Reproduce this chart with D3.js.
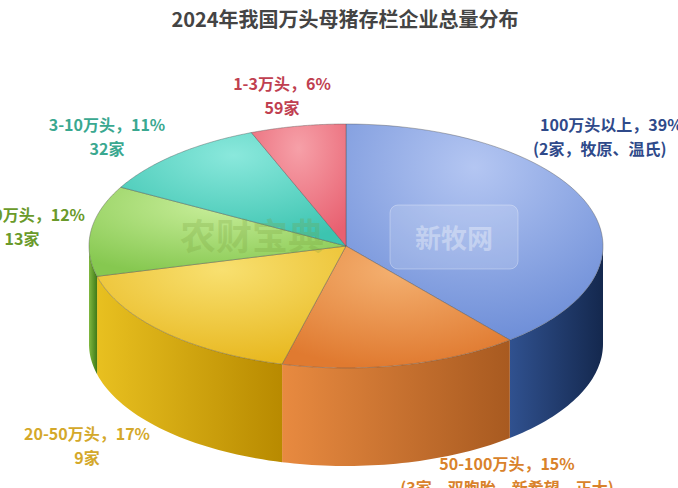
<!DOCTYPE html>
<html><head><meta charset="utf-8">
<script src="https://cdn.jsdelivr.net/npm/d3@7"></script>
<style>body{margin:0;background:#fff}text{font-family:"Noto Sans CJK SC",sans-serif}</style>
</head><body><div id="chart"></div>
<script>
const categories = ["100万头以上", "50-100万头", "20-50万头", "10-20万头", "3-10万头", "1-3万头"];
const shares = [39, 15, 17, 12, 11, 6];
const companies = ["(2家，牧原、温氏)", "(3家，双胞胎、新希望、正大)", "9家", "13家", "32家", "59家"];
const topColors = [["#b4c6f2", "#6f8fd8"], ["#f4b070", "#e07a30"], ["#f8e070", "#e8b820"], ["#c8ee9a", "#86c850"], ["#8ae8dc", "#3cc4b0"], ["#f6a0a8", "#e86070"]];
const sideColors = [["#30518f", "#14284e"], ["#e88a40", "#a85a20"], ["#e8c020", "#b88a00"], ["#80b840", "#3f7a18"], ["#40b0a0", "#1f7a6a"], ["#d05060", "#902838"]];
const labelColors = ["#2f4a8a", "#d9822b", "#d4a82a", "#6a9a2a", "#3aa890", "#c04050"];
const labelPos = [[540, 131, "start"], [507, 470, "middle"], [87, 440, "middle"], [22, 221, "middle"], [107, 131, "middle"], [282, 90, "middle"]];

const W = 678, H = 488, cx = 346, cy = 246, rx = 257, ry = 122, depth = 98;
const svg = d3.select("#chart").append("svg").attr("width", W).attr("height", H);
const defs = svg.append("defs");

const pie = d3.pie().sort(null).value(d => d)(shares);
const pt = (a, dy = 0) => [cx + rx * Math.sin(a), cy - ry * Math.cos(a) + dy];

svg.append("text").attr("x", 345).attr("y", 27).attr("text-anchor", "middle")
  .attr("font-size", 20).attr("font-weight", "bold").attr("fill", "#444")
  .text("2024年我国万头母猪存栏企业总量分布");

pie.forEach((s, i) => {
  const gs = defs.append("linearGradient").attr("id", "s" + i);
  gs.append("stop").attr("offset", "0%").attr("stop-color", sideColors[i][0]);
  gs.append("stop").attr("offset", "100%").attr("stop-color", sideColors[i][1]);
  const gt = defs.append("radialGradient").attr("id", "t" + i)
    .attr("cx", "50%").attr("cy", "20%").attr("r", "80%");
  gt.append("stop").attr("offset", "0%").attr("stop-color", topColors[i][0]);
  gt.append("stop").attr("offset", "100%").attr("stop-color", topColors[i][1]);
});

// side walls (front half only)
const walls = svg.append("g");
pie.forEach((s, i) => {
  const a0 = Math.max(s.startAngle, Math.PI / 2), a1 = Math.min(s.endAngle, Math.PI * 1.5);
  if (a1 <= a0) return;
  const n = 40, top = [], bot = [];
  for (let k = 0; k <= n; k++) {
    const a = a0 + (a1 - a0) * k / n;
    top.push(pt(a)); bot.push(pt(a, depth));
  }
  const pts = top.concat(bot.reverse());
  walls.append("path").attr("d", "M" + pts.map(p => p.join(",")).join("L") + "Z")
    .attr("fill", `url(#s${i})`);
});

// top faces
const tops = svg.append("g");
pie.forEach((s, i) => {
  const n = 60, pts = [[cx, cy]];
  for (let k = 0; k <= n; k++) pts.push(pt(s.startAngle + (s.endAngle - s.startAngle) * k / n));
  tops.append("path").attr("d", "M" + pts.map(p => p.join(",")).join("L") + "Z")
    .attr("fill", `url(#t${i})`).attr("stroke", "rgba(80,80,80,0.5)").attr("stroke-width", 0.8);
});

// watermarks
svg.append("text").attr("x", 252).attr("y", 250).attr("text-anchor", "middle")
  .attr("font-size", 36).attr("font-weight", "bold").attr("fill", "rgba(120,160,60,0.25)").text("农财宝典");
svg.append("rect").attr("x", 390).attr("y", 205).attr("width", 128).attr("height", 64).attr("rx", 8)
  .attr("fill", "rgba(255,255,255,0.15)").attr("stroke", "rgba(255,255,255,0.3)");
svg.append("text").attr("x", 454).attr("y", 248).attr("text-anchor", "middle")
  .attr("font-size", 26).attr("font-weight", "bold").attr("fill", "rgba(255,255,255,0.35)").text("新牧网");

// labels
pie.forEach((s, i) => {
  const [x, y, anchor] = labelPos[i];
  const t = svg.append("text").attr("text-anchor", anchor).attr("fill", labelColors[i])
    .attr("font-size", 16).attr("font-weight", "bold");
  t.append("tspan").attr("x", x).attr("y", y).text(`${categories[i]}，${shares[i]}%`);
  t.append("tspan").attr("x", anchor === "start" ? x - 7 : x).attr("dy", 24).text(companies[i]);
});
</script></body></html>
